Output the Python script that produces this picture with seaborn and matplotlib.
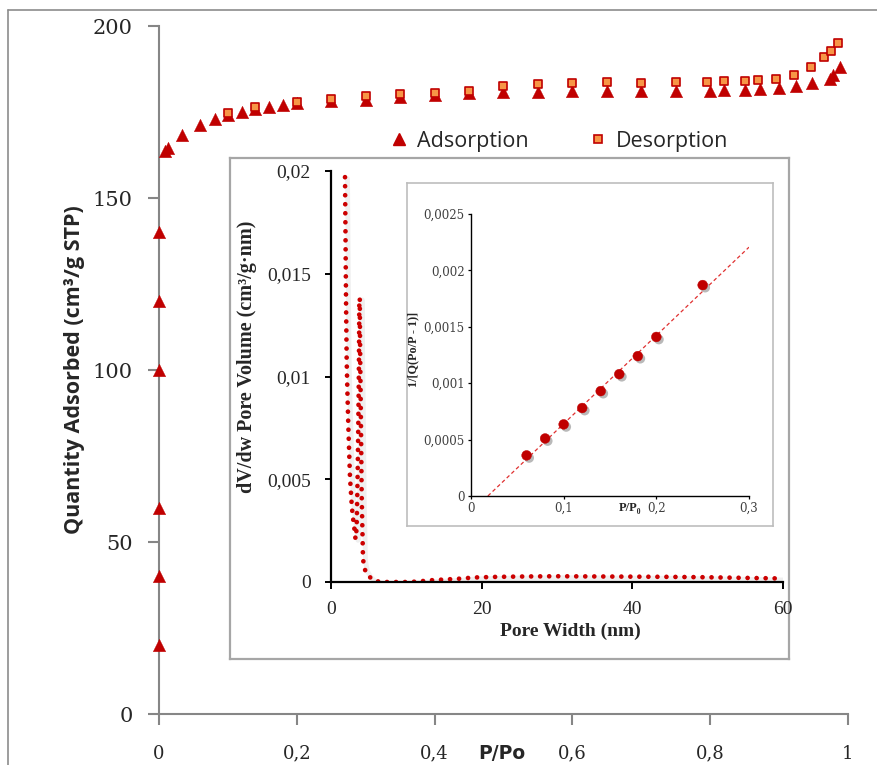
"""
N2 isotherm with pore-size distribution and BET insets.
"""
import matplotlib
matplotlib.use("Agg")

import matplotlib.pyplot as plt
import matplotlib.patheffects as pe
import numpy as np
import seaborn as sns
from matplotlib.lines import Line2D
from matplotlib.ticker import FuncFormatter
from matplotlib.transforms import offset_copy

# ── data ────────────────────────────────────────────────────────────────
ads_x = [0, 0, 0, 0, 0, 0, 0.008, 0.013, 0.034, 0.06, 0.082, 0.10, 0.12,
         0.14, 0.16, 0.18, 0.20, 0.25, 0.30, 0.35, 0.40, 0.45, 0.50, 0.55,
         0.60, 0.65, 0.70, 0.75, 0.80, 0.82, 0.85, 0.873, 0.90, 0.925,
         0.948, 0.974, 0.978, 0.989]
ads_y = [20, 40, 60, 100, 120, 140, 163.6, 164.5, 168.3, 171.2, 172.9,
         174.0, 175.0, 175.9, 176.5, 177.0, 177.6, 178.3, 178.6, 179.4,
         179.9, 180.4, 180.9, 180.9, 181.2, 181.2, 181.2, 181.2, 181.2,
         181.4, 181.4, 181.6, 181.9, 182.5, 183.3, 184.7, 185.9, 188.2]

des_x = [0.10, 0.14, 0.20, 0.25, 0.30, 0.35, 0.40, 0.45, 0.50, 0.55, 0.60,
         0.65, 0.70, 0.75, 0.795, 0.82, 0.85, 0.87, 0.895, 0.921, 0.946,
         0.965, 0.976, 0.985]
des_y = [174.6, 176.4, 178.0, 178.9, 179.7, 180.1, 180.6, 181.2, 182.6,
         183.1, 183.3, 183.6, 183.5, 183.6, 183.6, 183.9, 184.0, 184.3,
         184.7, 185.7, 188.0, 190.9, 192.8, 195.0]

# pore size distribution, in drawing order (curve doubles back)
pore_width = [1.86, 1.90, 1.95, 2.00, 2.08, 2.18, 2.30, 2.42, 2.52, 2.64,
              2.74, 2.86, 2.96, 3.10, 3.25, 3.35, 3.41, 3.49, 3.56, 3.62,
              3.68, 3.71, 3.74, 3.76, 3.82, 3.85, 3.88, 3.94, 3.98, 4.03,
              4.07, 4.16, 4.25, 4.50, 4.96, 5.60, 6.50, 8.0, 10.0, 11.5,
              13.0, 15.0, 17.0, 19.0, 22.0, 26.0, 30.0, 35.0, 40.0, 45.0,
              50.0, 55.0, 60.0]
pore_dv = [0.0197, 0.0180, 0.0157, 0.0135, 0.0108, 0.0092, 0.0076, 0.0062,
           0.0051, 0.0044, 0.0038, 0.0033, 0.0030, 0.0026, 0.0021, 0.0024,
           0.0027, 0.0043, 0.0059, 0.0076, 0.0095, 0.0108, 0.0124, 0.0138,
           0.0138, 0.0120, 0.0108, 0.0090, 0.0076, 0.0059, 0.0043, 0.0027,
           0.0011, 0.0006, 0.0003, 0.0001, 0.0, 0.0, 0.0, 0.00002,
           0.00008, 0.00012, 0.00016, 0.00022, 0.00025, 0.00027, 0.00028,
           0.00027, 0.00026, 0.00025, 0.00023, 0.0002, 0.00017]

bet_x = [0.06, 0.08, 0.10, 0.12, 0.14, 0.16, 0.18, 0.20, 0.25]
bet_y = [0.00036, 0.00051, 0.000635, 0.00078, 0.00093, 0.00108, 0.00124,
         0.00141, 0.00187]

main_xticks = [0, 0.2, 0.4, 0.6, 0.8, 1.0]
main_yticks = [0, 50, 100, 150, 200]
pore_xticks = [0, 20, 40, 60]
pore_yticks = [0, 0.005, 0.01, 0.015, 0.02]
bet_xticks = [0, 0.1, 0.2, 0.3]
bet_yticks = [0, 0.0005, 0.001, 0.0015, 0.002, 0.0025]

RED = "#C00000"
ORANGE = "#F79646"
GREY = "#868686"

W, H = 878, 765


def px_rect(x0, y0, x1, y1):
    # pixel box (top-left origin) -> figure fraction rect
    return [x0 / W, 1 - y1 / H, (x1 - x0) / W, (y1 - y0) / H]


comma = FuncFormatter(lambda v, _: f"{v:g}".replace(".", ","))

sns.set_theme(style="white")
plt.rcParams["font.family"] = ["DejaVu Sans"]

fig = plt.figure(figsize=(W / 100, H / 100), dpi=100)

# outer frame (top and left edges only show)
fig.add_artist(Line2D([8 / W, 1], [1 - 10 / H, 1 - 10 / H], color="#8C8C8C", lw=1.2))
fig.add_artist(Line2D([8 / W, 8 / W], [0, 1 - 10 / H], color="#8C8C8C", lw=1.2))

# ── 1. Main isotherm ──────────────────────────────────────────────────
ax = fig.add_axes(px_rect(159, 26, 848, 714))
ax.set_facecolor("none")
sns.scatterplot(x=ads_x, y=ads_y, marker="^", s=80, color=RED, edgecolor=RED,
                linewidth=0.3, ax=ax, clip_on=False, zorder=3)
sns.scatterplot(x=des_x, y=des_y, marker="s", s=26, color=ORANGE, edgecolor=RED,
                linewidth=1.2, ax=ax, clip_on=False, zorder=4)
ax.set_xlim(0, 1)
ax.set_ylim(0, 200)
ax.set_xticks(main_xticks)
ax.set_yticks(main_yticks)
ax.xaxis.set_major_formatter(comma)
for s in ("top", "right"):
    ax.spines[s].set_visible(False)
for s in ("left", "bottom"):
    ax.spines[s].set_color(GREY)
    ax.spines[s].set_linewidth(1.5)
ax.tick_params(axis="both", direction="out", length=8, width=1.5, color=GREY,
               left=True, bottom=True)
ax.tick_params(axis="y", pad=11, labelsize=15)
ax.tick_params(axis="x", pad=14, labelsize=13)
for lab in ax.get_xticklabels() + ax.get_yticklabels():
    lab.set_family("DejaVu Serif")
ax.set_xlabel("")
ax.set_ylabel("Quantity Adsorbed (cm³/g STP)", family="Open Sans",
              fontweight="bold", fontsize=15.5)
ax.yaxis.set_label_coords(-0.108, 0.5)
ax.text(0.498, -0.044, "P/Po", transform=ax.transAxes, ha="center", va="top",
        family="DejaVu Sans", fontweight="bold", fontsize=13.5)

handles = [
    Line2D([], [], marker="^", linestyle="", color=RED, markersize=9),
    Line2D([], [], marker="s", linestyle="", markerfacecolor=ORANGE,
           markeredgecolor=RED, markeredgewidth=1.2, markersize=5.5),
]
ax.legend(handles, ["Adsorption", "Desorption"], ncol=2, loc="center left",
          bbox_to_anchor=(388 / W, 1 - 141 / H), bbox_transform=fig.transFigure,
          frameon=False, handlelength=1.0, handletextpad=0.35,
          columnspacing=2.7, borderpad=0, borderaxespad=0,
          prop=dict(family="Open Sans", size=15.5))

# ── 2. Pore size distribution inset ───────────────────────────────────
box1 = fig.add_axes(px_rect(230, 158, 789, 659))
box1.set_facecolor("white")
box1.set_xticks([])
box1.set_yticks([])
for s in box1.spines.values():
    s.set_color("#A6A6A6")
    s.set_linewidth(1.6)

ax1 = fig.add_axes(px_rect(331, 171, 783, 582))
ax1.set_facecolor("none")
ax1.plot(pore_width, pore_dv, color="#9A9A9A", lw=3.5, alpha=0.15,
         solid_capstyle="round",
         transform=offset_copy(ax1.transData, fig=fig, x=2.5, y=-1.5, units="dots"))
sns.lineplot(x=pore_width, y=pore_dv, sort=False, estimator=None, ax=ax1,
             color="#CC0000", lw=3.4, linestyle=(0, (0.01, 1.9)),
             dash_capstyle="round")
ax1.set_xlim(0, 60)
ax1.set_ylim(0, 0.02)
ax1.set_xticks(pore_xticks)
ax1.set_yticks(pore_yticks)
ax1.yaxis.set_major_formatter(comma)
for s in ("top", "right"):
    ax1.spines[s].set_visible(False)
for s in ("left", "bottom"):
    ax1.spines[s].set_color("black")
    ax1.spines[s].set_linewidth(1.6)
ax1.tick_params(axis="both", direction="out", width=1.4, color="black",
                left=True, bottom=True, labelsize=14)
ax1.tick_params(axis="y", length=4.5, pad=10)
ax1.tick_params(axis="x", length=5, pad=9)
for lab in ax1.get_xticklabels() + ax1.get_yticklabels():
    lab.set_family("Liberation Serif")
ax1.set_xlabel("Pore Width (nm)", family="Liberation Serif", fontweight="bold",
               fontsize=14)
ax1.xaxis.set_label_coords(0.529, -0.098)
ax1.set_ylabel("dV/dw Pore Volume (cm³/g·nm)", family="Liberation Serif",
               fontweight="bold", fontsize=14.5)
ax1.yaxis.set_label_coords(-0.163, 0.547)

# ── 3. BET plot inset ─────────────────────────────────────────────────
box2 = fig.add_axes(px_rect(407, 183, 773, 526))
box2.set_facecolor("white")
box2.set_xticks([])
box2.set_yticks([])
for s in box2.spines.values():
    s.set_color("#BDBDBD")
    s.set_linewidth(1.2)

ax2 = fig.add_axes(px_rect(471, 214, 749, 496))
ax2.set_facecolor("none")
slope, icept = np.polyfit(bet_x, bet_y, 1)
fit_x = np.array([-icept / slope, 0.3])
ax2.plot(fit_x, slope * fit_x + icept, color="#E03030", lw=0.9,
         linestyle=(0, (3, 2.2)))
sns.scatterplot(x=bet_x, y=bet_y, s=50, color=RED, edgecolor=RED,
                linewidth=0.3, ax=ax2, zorder=3)
ax2.collections[-1].set_path_effects([
    pe.SimplePatchShadow(offset=(1.8, -1.8), shadow_rgbFace="#808080", alpha=0.55),
    pe.Normal(),
])
ax2.set_xlim(0, 0.3)
ax2.set_ylim(0, 0.0025)
ax2.set_xticks(bet_xticks)
ax2.set_yticks(bet_yticks)
ax2.xaxis.set_major_formatter(comma)
ax2.yaxis.set_major_formatter(comma)
for s in ("top", "right"):
    ax2.spines[s].set_visible(False)
for s in ("left", "bottom"):
    ax2.spines[s].set_color("black")
    ax2.spines[s].set_linewidth(1.0)
ax2.tick_params(axis="both", direction="out", length=2.5, width=0.9,
                color="black", left=True, bottom=True, labelsize=8.5,
                labelcolor="#404040")
ax2.tick_params(axis="y", pad=2)
ax2.tick_params(axis="x", pad=1.5)
for lab in ax2.get_xticklabels() + ax2.get_yticklabels():
    lab.set_family("DejaVu Serif")
ax2.set_xlabel("")
ax2.set_ylabel("1/[Q(Po/P - 1)]", family="Liberation Serif", fontweight="bold",
               fontsize=8.7)
ax2.yaxis.set_label_coords(-0.185, 0.518)
ax2.text(0.172, -0.022, "P/P₀", transform=ax2.get_xaxis_transform(),
         ha="center", va="top", family=["Liberation Serif", "DejaVu Serif"],
         fontweight="bold", fontsize=9)

fig.savefig("out.png", dpi=100)
plt.close(fig)
